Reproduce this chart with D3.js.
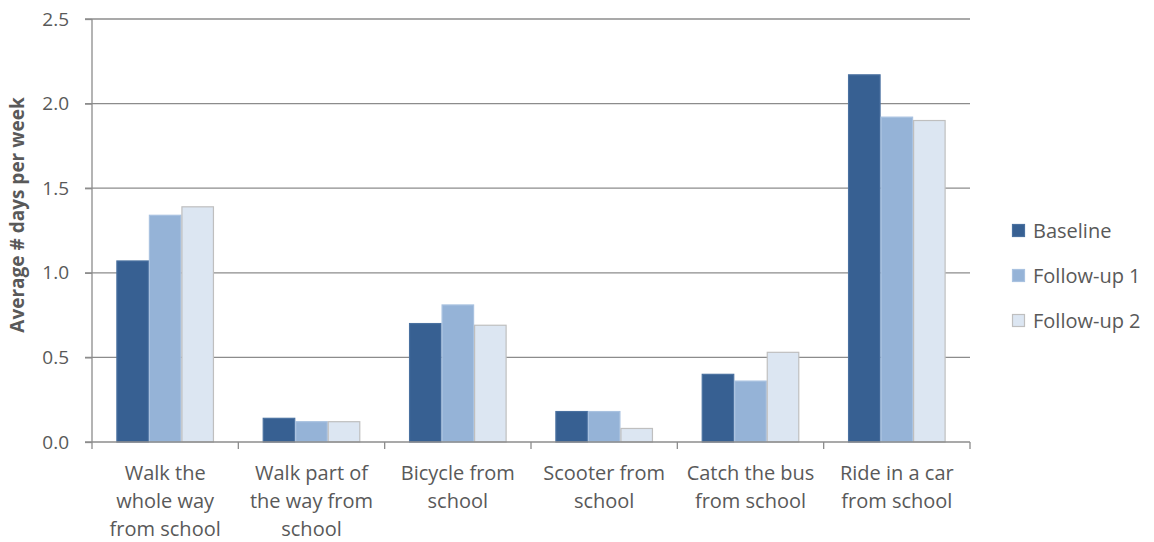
<!DOCTYPE html>
<html>
<head>
<meta charset="utf-8">
<script src="https://cdn.jsdelivr.net/npm/d3@7"></script>
<style>
  html, body { margin: 0; padding: 0; background: #fff; }
  svg { display: block; font-family: "Open Sans", "Liberation Sans", sans-serif; }
  svg text { font-family: "Open Sans", "Liberation Sans", sans-serif; }
</style>
</head>
<body>
<svg id="chart" width="1154" height="542"></svg>
<script>
// Travel mode categories (each label split into its printed lines)
const categories = [
  ["Walk the", "whole way", "from school"],
  ["Walk part of", "the way from", "school"],
  ["Bicycle from", "school"],
  ["Scooter from", "school"],
  ["Catch the bus", "from school"],
  ["Ride in a car", "from school"]
];
const seriesNames = ["Baseline", "Follow-up 1", "Follow-up 2"];
const baseline  = [1.07, 0.14, 0.70, 0.18, 0.40, 2.17];
const followUp1 = [1.34, 0.12, 0.81, 0.18, 0.36, 1.92];
const followUp2 = [1.39, 0.12, 0.69, 0.08, 0.53, 1.90];
const yTicks = [0, 0.5, 1.0, 1.5, 2.0, 2.5];

const seriesValues = [baseline, followUp1, followUp2];
const fills   = ["#376092", "#95B3D7", "#DCE6F2"];
const strokes = ["#4A71A0", "#A9C2E0", "#BFBFBF"];

const svg = d3.select("#chart");
const plot = { left: 92, right: 970, top: 19, bottom: 442 };

const x = d3.scaleBand()
  .domain(d3.range(categories.length))
  .range([plot.left, plot.right])
  .paddingInner(0).paddingOuter(0);

const barW = x.bandwidth() / 4.5;          // gap width 150%
const xs = d3.scaleBand()
  .domain(d3.range(seriesNames.length))
  .range([0, barW * 3]);

const y = d3.scaleLinear().domain([0, 2.5]).range([plot.bottom, plot.top]);

// Horizontal gridlines
svg.append("g")
  .selectAll("line")
  .data(yTicks.filter(t => t > 0))
  .join("line")
  .attr("x1", plot.left - 7).attr("x2", plot.right)
  .attr("y1", d => y(d)).attr("y2", d => y(d))
  .attr("stroke", "#8C8C8C").attr("stroke-width", 1.3);

// Bars
const groups = svg.append("g")
  .selectAll("g")
  .data(categories.map((c, i) => i))
  .join("g")
  .attr("transform", i => `translate(${x(i) + (x.bandwidth() - barW * 3) / 2},0)`);

groups.selectAll("rect")
  .data(i => seriesValues.map((vals, s) => ({ s, v: vals[i] })))
  .join("rect")
  .attr("x", d => xs(d.s) + 0.5)
  .attr("width", xs.bandwidth() - 1)
  .attr("y", d => y(d.v))
  .attr("height", d => y(0) - y(d.v))
  .attr("fill", d => fills[d.s])
  .attr("stroke", d => strokes[d.s])
  .attr("stroke-width", 1.2);

// Y axis
const yAxis = d3.axisLeft(y)
  .tickValues(yTicks)
  .tickFormat(d3.format(".1f"))
  .tickSize(7)
  .tickPadding(16);
const yg = svg.append("g")
  .attr("transform", `translate(${plot.left},0)`)
  .call(yAxis)
  .attr("font-family", null)
  .attr("font-size", null);
yg.select(".domain").attr("stroke", "#8C8C8C").attr("stroke-width", 1.3)
  .attr("d", `M0,${plot.top}V${plot.bottom}`);
yg.selectAll(".tick line").attr("stroke", "#8C8C8C").attr("stroke-width", 1.3);
yg.selectAll(".tick text")
  .attr("fill", "#595959")
  .style("font-size", "19px");

// X axis
const xAxis = d3.axisBottom(x).tickSize(0).tickFormat("");
const xg = svg.append("g")
  .attr("transform", `translate(0,${plot.bottom})`)
  .call(xAxis);
xg.select(".domain").attr("stroke", "#8C8C8C").attr("stroke-width", 1.3)
  .attr("d", `M${plot.left - 7},0H${plot.right}`);
xg.selectAll(".tick").remove();
// Boundary tick marks between categories
xg.selectAll("line.sep")
  .data(d3.range(categories.length + 1))
  .join("line")
  .attr("class", "sep")
  .attr("x1", i => plot.left + i * x.step())
  .attr("x2", i => plot.left + i * x.step())
  .attr("y1", 0).attr("y2", 7)
  .attr("stroke", "#8C8C8C").attr("stroke-width", 1.3);

// Category labels
const labels = svg.append("g")
  .selectAll("text")
  .data(categories.map((c, i) => ({ c, i })))
  .join("text")
  .attr("text-anchor", "middle")
  .attr("fill", "#595959")
  .style("font-size", "20px")
  .attr("transform", d => `translate(${x(d.i) + x.bandwidth() / 2},480)`);
labels.selectAll("tspan")
  .data(d => d.c)
  .join("tspan")
  .attr("x", 0)
  .attr("y", (d, k) => k * 28)
  .text(d => d);

// Y axis title
svg.append("text")
  .attr("transform", `translate(24,215) rotate(-90)`)
  .attr("text-anchor", "middle")
  .attr("fill", "#595959")
  .style("font-size", "19px")
  .style("font-weight", "bold")
  .text("Average # days per week");

// Legend
const legend = svg.append("g")
  .selectAll("g")
  .data(seriesNames.map((n, s) => ({ n, s })))
  .join("g")
  .attr("transform", d => `translate(1012,${231 + d.s * 45})`);
legend.append("rect")
  .attr("x", 0.5).attr("y", -6.5)
  .attr("width", 12).attr("height", 12)
  .attr("fill", d => fills[d.s])
  .attr("stroke", d => strokes[d.s])
  .attr("stroke-width", 1.2);
legend.append("text")
  .attr("x", 21).attr("y", 0)
  .attr("dy", "0.35em")
  .attr("fill", "#595959")
  .style("font-size", "20px")
  .text(d => d.n);
</script>
</body>
</html>
